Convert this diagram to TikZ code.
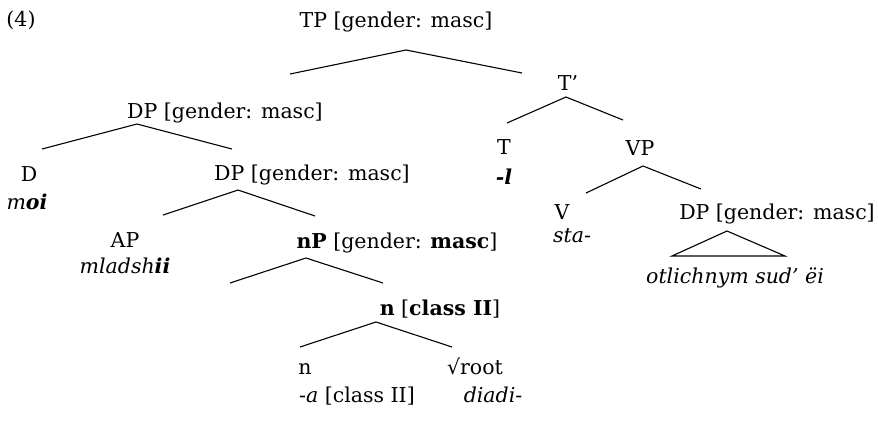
\documentclass[tikz,border=0pt]{standalone}
\usepackage{fontspec}
\setmainfont{DejaVu Serif}
\begin{document}
\begin{tikzpicture}[x=1pt,y=-1pt,
  lbl/.style={anchor=base,inner sep=0pt,font=\fontsize{20.5}{24}\selectfont},
  br/.style={line width=1.1pt}]
\useasboundingbox (0,0) rectangle (878,424);
% labels
\node[lbl] (ex) at (21,26) {(4)};
\node[lbl] (tp) at (396,27) {TP [gender: masc]};
\node[lbl] (tbar) at (568,90) {T’};
\node[lbl] (dp1) at (225,118) {DP [gender: masc]};
\node[lbl] (d) at (29,181) {D};
\node[lbl] (moi) at (27,209) {\textit{m\textbf{oi}}};
\node[lbl] (dp2) at (312,180) {DP [gender: masc]};
\node[lbl] (t) at (504,154) {T};
\node[lbl] (tl) at (504,184) {\textbf{\textit{-l}}};
\node[lbl] (vp) at (640,155) {VP};
\node[lbl] (v) at (562,219) {V};
\node[lbl] (sta) at (572,242) {\textit{sta-}};
\node[lbl] (dp3) at (777,219) {DP [gender: masc]};
\node[lbl] (otl) at (735,283) {\textit{otlichnym sud’ ëi}};
\node[lbl] (ap) at (125,247) {AP};
\node[lbl] (mla) at (125,273) {\textit{mladsh\textbf{ii}}};
\node[lbl] (np) at (397,248) {\textbf{nP} [gender: \textbf{masc}]};
\node[lbl] (ncl) at (440,315) {\textbf{n} [\textbf{class II}]};
\node[lbl] (n) at (305,374) {n};
\node[lbl] (root) at (475,374) {√root};
\node[lbl] (acl) at (357,402) {-\textit{a} [class II]};
\node[lbl] (diadi) at (493,402) {\textit{diadi-}};
% branch points
\coordinate (tpA) at (406,50);  \coordinate (tpL) at (290,74);  \coordinate (tpR) at (522,73);
\coordinate (tbA) at (566,97);  \coordinate (tbL) at (507,123); \coordinate (tbR) at (623,120);
\coordinate (d1A) at (137,124); \coordinate (d1L) at (42,149);  \coordinate (d1R) at (232,149);
\coordinate (d2A) at (238,190); \coordinate (d2L) at (163,215); \coordinate (d2R) at (315,216);
\coordinate (vpA) at (643,166); \coordinate (vpL) at (586,193); \coordinate (vpR) at (701,189);
\coordinate (npA) at (306,258); \coordinate (npL) at (230,283); \coordinate (npR) at (383,283);
\coordinate (ncA) at (376,322); \coordinate (ncL) at (300,347); \coordinate (ncR) at (452,347);
\coordinate (triA) at (727,231); \coordinate (triL) at (672,256); \coordinate (triR) at (785,256);
% branches
\draw[br] (tpL) -- (tpA) -- (tpR);
\draw[br] (tbL) -- (tbA) -- (tbR);
\draw[br] (d1L) -- (d1A) -- (d1R);
\draw[br] (d2L) -- (d2A) -- (d2R);
\draw[br] (vpL) -- (vpA) -- (vpR);
\draw[br] (npL) -- (npA) -- (npR);
\draw[br] (ncL) -- (ncA) -- (ncR);
\draw[br,line join=miter] (triL) -- (triA) -- (triR) -- cycle;
\end{tikzpicture}
\end{document}
